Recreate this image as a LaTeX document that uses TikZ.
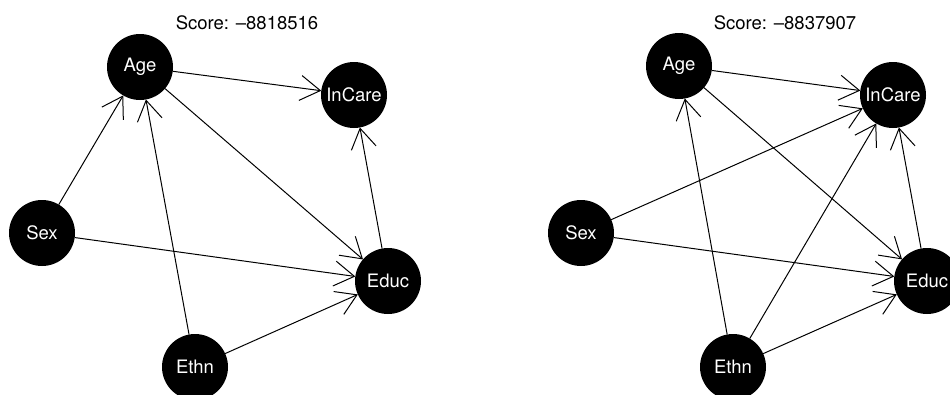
\documentclass[tikz,border=0pt]{standalone}
\usepackage{fontspec}
\setmainfont{TeX Gyre Heros}
\usetikzlibrary{arrows.meta}
\begin{document}
\begin{tikzpicture}[x=1pt,y=-1pt,
  var/.style={circle,fill=black,text=white,minimum size=66pt,inner sep=0pt,outer sep=0pt,font=\fontsize{18.5}{20}\selectfont},
  ttl/.style={font=\fontsize{18.5}{20}\selectfont,inner sep=0pt},
  arr/.style={line width=1pt,-{Straight Barb[length=20pt,width=25pt,line width=1pt]}}]
\useasboundingbox (0,0) rectangle (950,394);
% left panel
\node[ttl] (t1) at (247,23) {Score: –8818516};
\node[var] (age1) at (140,67) {Age};
\node[var] (inc1) at (354,95) {InCare};
\node[var] (sex1) at (42,233) {Sex};
\node[var] (edu1) at (388,281) {Educ};
\node[var] (eth1) at (195,367) {Ethn};
\draw[arr] (age1) -- (inc1);
\draw[arr] (age1) -- (edu1);
\draw[arr] (sex1) -- (age1);
\draw[arr] (sex1) -- (edu1);
\draw[arr] (eth1) -- (age1);
\draw[arr] (eth1) -- (edu1);
\draw[arr] (edu1) -- (inc1);
% right panel
\node[ttl] (t2) at (785,23) {Score: –8837907};
\node[var] (age2) at (679,66) {Age};
\node[var] (inc2) at (893,95) {InCare};
\node[var] (sex2) at (581,233) {Sex};
\node[var] (edu2) at (927,281) {Educ};
\node[var] (eth2) at (733,367) {Ethn};
\draw[arr] (age2) -- (inc2);
\draw[arr] (age2) -- (edu2);
\draw[arr] (sex2) -- (inc2);
\draw[arr] (sex2) -- (edu2);
\draw[arr] (eth2) -- (age2);
\draw[arr] (eth2) -- (inc2);
\draw[arr] (eth2) -- (edu2);
\draw[arr] (edu2) -- (inc2);
\end{tikzpicture}
\end{document}
